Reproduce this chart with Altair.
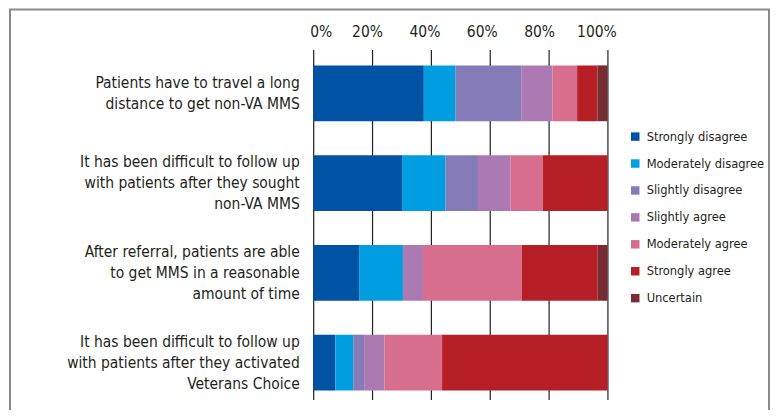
import altair as alt
import pandas as pd

questions = [
    "Patients have to travel a long|distance to get non-VA MMS",
    "It has been difficult to follow up|with patients after they sought|non-VA MMS",
    "After referral, patients are able|to get MMS in a reasonable|amount of time",
    "It has been difficult to follow up|with patients after they activated|Veterans Choice",
]
categories = ["Strongly disagree", "Moderately disagree", "Slightly disagree",
              "Slightly agree", "Moderately agree", "Strongly agree", "Uncertain"]
colors = ["#0053A4", "#009EE0", "#857BB7", "#AB7AB3", "#D76E8E", "#B71F26", "#752D33"]

values = [
    [37.6, 10.8, 22.3, 10.6, 8.4, 6.9, 3.4],
    [30.2, 14.8, 11.0, 11.1, 10.9, 22.0, 0.0],
    [15.6, 14.9, 0.0, 6.8, 33.6, 25.8, 3.3],
    [7.5, 6.1, 3.7, 6.9, 19.6, 56.2, 0.0],
]
ticks = [0, 20, 40, 60, 80, 100]

rows = []
for q, vals in zip(questions, values):
    for i, (c, v) in enumerate(zip(categories, vals)):
        rows.append({"question": q, "category": c, "value": v, "order": i})
df = pd.DataFrame(rows)

FONT = "DejaVu Sans Condensed, Liberation Sans Narrow, sans-serif"
TXT = "#231f20"

bars = alt.Chart(df).mark_bar(stroke=None).encode(
    x=alt.X("value:Q", stack="zero",
            scale=alt.Scale(domain=[0, 100], nice=False),
            axis=alt.Axis(orient="top", values=ticks, title=None,
                          labelExpr="datum.value + '%'",
                          domain=False, ticks=False, grid=True,
                          gridColor=TXT, gridWidth=1.2,
                          labelFontSize=15.5, labelColor=TXT, labelFont=FONT,
                          labelPadding=10, labelFlush=False, labelOverlap=False,
                          labelOffset=alt.ExprRef("datum.value == 0 ? 7.5 : -3.5 - 0.075*datum.value"))),
    y=alt.Y("question:N", sort=questions, title=None,
            scale=alt.Scale(paddingInner=0.378, paddingOuter=0.139, align=0.64),
            axis=alt.Axis(labelExpr="split(datum.label, '|')", labelAlign="right",
                          labelBaseline="middle", labelPadding=14, labelLimit=0,
                          labelFontSize=15.5, labelLineHeight=21, labelColor=TXT,
                          labelFont=FONT, domain=False, ticks=False, grid=False,
                          labelOffset=alt.ExprRef("-(length(split(datum.label, '|')) - 1) * 10.5"))),
    color=alt.Color("category:N", sort=categories,
                    scale=alt.Scale(domain=categories, range=colors),
                    legend=alt.Legend(title=None, orient="none", legendX=316.5, legendY=81,
                                      symbolType="square", symbolSize=72,
                                      symbolStrokeWidth=0, labelFontSize=12.8,
                                      labelFont=FONT, labelColor=TXT,
                                      labelOffset=5, rowPadding=13.0, padding=0)),
    order=alt.Order("order:Q"),
)

frame = alt.Chart(pd.DataFrame({"k": [0]})).mark_rect(
    filled=False, stroke="#8a8a8a", strokeWidth=2
).encode(
    x=alt.value(-304), x2=alt.value(457), y=alt.value(-40), y2=alt.value(400)
)

chart = alt.layer(bars, frame).properties(
    width=295, height=351,
    autosize=alt.AutoSizeParams(type="none"),
    padding={"left": 306, "top": 41, "right": 164, "bottom": 10},
).configure_view(stroke=None)

chart.save("out.html", embed_options={"renderer": "svg", "actions": False})
